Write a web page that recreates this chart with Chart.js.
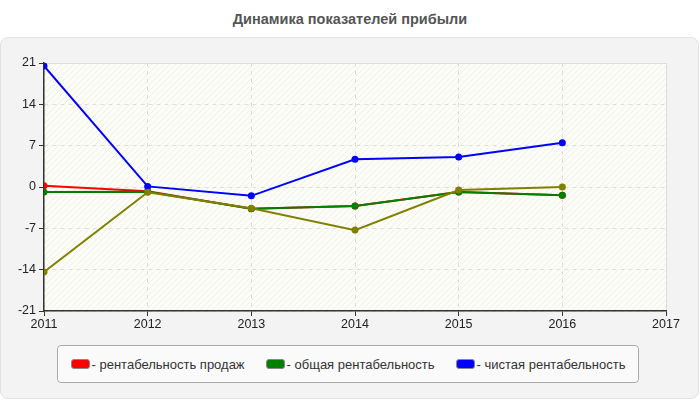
<!DOCTYPE html>
<html>
<head>
<meta charset="utf-8">
<script src="https://cdn.jsdelivr.net/npm/chart.js@4"></script>
<style>
  html, body { margin: 0; padding: 0; background: #fff; }
  body { width: 700px; height: 400px; position: relative; overflow: hidden;
         font-family: "Liberation Sans", Arial, sans-serif; }
  #title { position: absolute; top: 11px; left: 0; width: 700px; text-align: center;
           font-size: 14.5px; font-weight: bold; color: #555; }
  #panel { position: absolute; top: 37px; left: 0; width: 697px; height: 360px;
           background: #f3f3f3; border: 1.5px solid #e2e2e2; border-radius: 8px; }
  #chart { position: absolute; top: 0; left: 0; }
  #legend { position: absolute; left: 57px; top: 345px; width: 582px; height: 38px;
            box-sizing: border-box; background: #fafafa; border: 1px solid #aaa;
            border-radius: 4px; display: flex; align-items: center; justify-content: center;
            gap: 21px; font-size: 13px; color: #333; }
  .item { display: flex; align-items: center; white-space: nowrap; }
  .sw { width: 17px; height: 8px; border-radius: 3px; border: 1px solid #888; margin-right: 2px; }
</style>
</head>
<body>
<div id="title">Динамика показателей прибыли</div>
<div id="panel"></div>
<canvas id="chart" width="700" height="400"></canvas>
<div id="legend"></div>

<script>
/* ---- data ---- */
const years      = [2011, 2012, 2013, 2014, 2015, 2016];
const salesROS   = [0.2, -0.7, -3.7, -3.2, -0.85, -1.4];   // рентабельность продаж
const totalROA   = [-0.85, -0.8, -3.7, -3.2, -0.85, -1.4];  // общая рентабельность
const netROA     = [20.5, 0.1, -1.5, 4.7, 5.1, 7.5];       // чистая рентабельность
const extraSeries = [-14.4, -0.9, -3.6, -7.3, -0.5, 0];    // без подписи в легенде
const yTicks     = [-21, -14, -7, 0, 7, 14, 21];
const xMin = 2011, xMax = 2017;

const seriesNames  = ['рентабельность продаж', 'общая рентабельность', 'чистая рентабельность', ''];
const seriesColors = ['#ff0000', '#008000', '#0000ff', '#808000'];

/* ---- hatch pattern for the plot area ---- */
function makeHatch() {
  const c = document.createElement('canvas');
  c.width = 6; c.height = 6;
  const g = c.getContext('2d');
  g.fillStyle = '#fdfdf8';
  g.fillRect(0, 0, 6, 6);
  g.strokeStyle = '#f0f0ea';
  g.lineWidth = 1;
  g.beginPath();
  g.moveTo(0, 6); g.lineTo(6, 0);
  g.moveTo(-1, 1); g.lineTo(1, -1);
  g.moveTo(5, 7); g.lineTo(7, 5);
  g.stroke();
  return g.createPattern(c, 'repeat');
}

const plotBg = {
  id: 'plotBg',
  beforeDraw(chart) {
    const { ctx, chartArea: a } = chart;
    ctx.save();
    ctx.fillStyle = makeHatch();
    ctx.fillRect(a.left, a.top, a.right - a.left, a.bottom - a.top);
    ctx.strokeStyle = '#dcdcdc';
    ctx.lineWidth = 1;
    ctx.beginPath();
    ctx.moveTo(a.left, a.top + 0.5); ctx.lineTo(a.right + 0.5, a.top + 0.5);
    ctx.lineTo(a.right + 0.5, a.bottom);
    ctx.stroke();
    ctx.restore();
  }
};

const allSeries = [salesROS, totalROA, netROA, extraSeries];
const drawOrder = [3, 2, 1, 0];  // olive on top, red at the bottom

const datasets = allSeries.map((vals, i) => ({
  label: seriesNames[i],
  data: years.map((y, k) => ({ x: y, y: vals[k] })),
  borderColor: seriesColors[i],
  backgroundColor: seriesColors[i],
  borderWidth: 2,
  pointRadius: 3.5,
  pointHoverRadius: 3.5,
  pointBorderWidth: 0,
  tension: 0,
  order: drawOrder[i],
}));

const tickFont = { family: "'Liberation Sans', Arial, sans-serif", size: 12.5 };

new Chart(document.getElementById('chart'), {
  type: 'line',
  data: { datasets },
  options: {
    responsive: false,
    animation: false,
    layout: { padding: { top: 63, right: 34, bottom: 0, left: 0 } },
    plugins: { legend: { display: false }, tooltip: { enabled: false } },
    scales: {
      x: {
        type: 'linear', min: xMin, max: xMax,
        afterBuildTicks: s => { s.ticks = []; for (let v = xMin; v <= xMax; v++) s.ticks.push({ value: v }); },
        afterFit: s => { s.height = 89; },
        ticks: { color: '#222', font: tickFont, padding: 1, callback: v => String(v), maxRotation: 0 },
        grid: { color: '#dedede', tickColor: '#333', tickLength: 5 },
        border: { color: '#333', width: 1.5, dash: [4, 4] },
      },
      y: {
        min: yTicks[0], max: yTicks[yTicks.length - 1],
        afterBuildTicks: s => { s.ticks = yTicks.map(v => ({ value: v })); },
        afterFit: s => { s.width = 44; },
        ticks: { color: '#222', font: tickFont, padding: 3 },
        grid: { color: '#dedede', tickColor: '#333', tickLength: 5 },
        border: { color: '#333', width: 1.5, dash: [4, 4] },
      },
    },
  },
  plugins: [plotBg],
});

/* ---- legend (named series only) ---- */
const legend = document.getElementById('legend');
seriesNames.forEach((name, i) => {
  if (!name) return;
  const item = document.createElement('div');
  item.className = 'item';
  const sw = document.createElement('span');
  sw.className = 'sw';
  sw.style.background = seriesColors[i];
  item.appendChild(sw);
  item.appendChild(document.createTextNode('- ' + name));
  legend.appendChild(item);
});
</script>
</body>
</html>
